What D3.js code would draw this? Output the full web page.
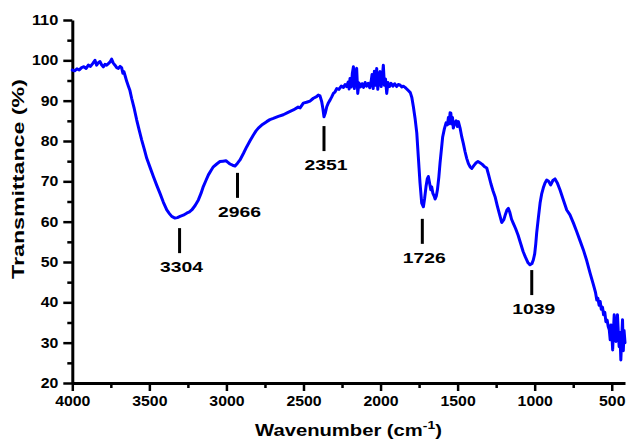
<!DOCTYPE html>
<html><head><meta charset="utf-8">
<script src="https://cdn.jsdelivr.net/npm/d3@7"></script>
<style>
html,body{margin:0;padding:0;background:#fff;}
svg{display:block;font-family:"Liberation Sans",Arial,Helvetica,sans-serif;}
</style></head>
<body>
<svg id="chart" width="629" height="440"></svg>
<script>
// ---- data ----
const wavenumber = [4000,3985,3970,3955,3940,3925,3910,3896,3882,3868,3853,3842,3831,3820,3810,3799,3788,3777,3766,3755,3745,3734,3723,3712,3701,3690,3680,3672,3665,3656,3647,3636,3626,3615,3598,3582,3566,3550,3533,3517,3495,3474,3452,3431,3409,3387,3370,3355,3334,3318,3301,3280,3258,3240,3225,3203,3182,3165,3150,3133,3117,3100,3085,3063,3042,3022,3003,2990,2977,2960,2944,2928,2912,2890,2868,2846,2825,2808,2793,2766,2739,2718,2696,2663,2631,2600,2566,2535,2522,2501,2480,2458,2436,2415,2404,2393,2382,2374,2367,2358,2349,2338,2327,2316,2306,2295,2284,2270,2255,2241,2230,2220,2210,2204,2198,2190,2183,2176,2170,2163,2155,2148,2140,2130,2120,2110,2100,2090,2080,2070,2062,2055,2048,2040,2033,2025,2018,2010,2003,1996,1988,1982,1975,1968,1960,1952,1942,1932,1920,1908,1896,1885,1874,1862,1852,1841,1830,1820,1807,1797,1787,1776,1765,1755,1744,1733,1722,1714,1705,1697,1690,1682,1674,1668,1661,1653,1646,1638,1631,1622,1614,1605,1597,1586,1575,1566,1560,1554,1549,1544,1538,1533,1528,1520,1510,1502,1495,1484,1473,1463,1452,1441,1430,1419,1408,1395,1380,1368,1355,1340,1325,1311,1298,1284,1270,1257,1243,1228,1214,1200,1190,1180,1171,1162,1150,1140,1124,1108,1092,1075,1060,1043,1030,1018,1009,1000,993,987,976,965,955,944,933,922,910,896,882,868,852,836,815,792,771,749,727,706,684,662,641,620,605,597,590,582,575,568,560,553,545,538,530,523,516,510,505,499,494,489,484,479,473,468,463,458,452,447,441,436,430,425,420,414];
const transmittance = [97.6,97.4,97.9,97.6,98.2,98.4,98.0,98.8,98.5,99.2,100.0,98.8,99.4,99.7,98.9,98.4,99.0,98.8,99.2,99.6,100.3,99.3,98.8,98.2,98.0,98.5,98.2,96.8,97.2,96.0,94.8,93.6,92.5,90.6,88.0,85.2,82.7,80.3,78.0,75.7,73.4,71.2,69.0,67.0,64.8,62.9,62.0,61.3,60.9,61.0,61.3,61.6,62.1,62.4,62.9,64.0,65.4,67.0,68.7,70.2,71.6,72.7,73.6,74.3,74.9,75.0,75.1,74.7,74.3,74.0,73.8,74.5,75.3,76.9,78.6,80.1,81.5,82.5,83.2,84.1,84.8,85.3,85.6,86.1,86.5,87.1,87.7,88.4,88.2,89.4,89.6,89.9,90.6,91.0,91.4,91.2,89.8,88.0,86.0,87.0,88.5,89.5,90.2,91.0,91.8,92.2,93.0,92.8,93.6,93.3,94.0,93.5,94.6,92.9,95.5,93.4,96.8,98.4,93.0,97.0,98.0,91.8,94.4,93.4,94.2,93.3,94.5,93.6,94.3,93.2,94.6,96.5,93.0,97.3,93.8,98.0,92.8,96.5,97.2,93.5,96.0,98.8,93.8,95.4,91.8,94.5,93.5,94.3,93.6,94.2,93.5,94.0,93.9,93.4,93.6,93.3,92.9,92.5,92.0,90.8,88.5,85.6,82.0,76.1,69.6,64.6,63.7,65.8,68.7,70.6,71.2,69.6,67.9,68.6,67.1,66.4,65.6,66.4,67.9,71.0,74.6,78.0,81.0,83.0,84.5,84.0,85.8,84.3,87.0,86.9,84.2,85.8,83.2,84.4,85.0,83.6,84.8,83.2,81.0,79.4,77.4,75.7,74.4,73.6,73.2,73.9,74.6,74.9,74.6,74.2,73.6,73.3,71.5,69.4,67.6,66.2,64.0,61.8,59.8,60.5,61.8,62.9,63.3,62.4,60.6,59.7,58.3,56.7,54.7,52.6,51.2,49.8,49.3,49.6,50.5,52.0,54.5,57.2,61.0,64.6,66.8,68.4,69.6,70.3,70.0,69.1,70.2,70.6,69.5,67.9,65.5,62.9,61.7,59.7,57.5,55.3,53.0,50.3,47.3,44.5,42.4,40.6,41.0,39.3,40.2,38.3,38.8,36.9,37.5,35.2,35.6,34.0,33.2,30.7,34.4,32.0,28.2,33.0,36.9,32.5,30.3,33.5,36.9,33.0,29.0,32.5,25.7,30.5,35.7,28.0,33.0,30.0];

const xTicks = [4000,3500,3000,2500,2000,1500,1000,500];
const xMinorTicks = [3750,3250,2750,2250,1750,1250,750];
const yTicks = [20,30,40,50,60,70,80,90,100,110];
const yMinorTicks = [25,35,45,55,65,75,85,95,105];

// annotations: label, wavenumber of marker, marker top / bottom (% T)
const annLabels = ["3304","2966","2351","1726","1039"];
const annWavenumber = [3304,2928,2367,1729,1019];
const annTop = [58.4,72.1,83.7,60.7,48.0];
const annBottom = [52.2,65.9,77.5,54.5,41.8];

const xTitle = "Wavenumber (cm";
const xTitleSup = "-1";
const yTitle = "Transmittance (%)";

// ---- drawing ----
const svg = d3.select("#chart");
const x = d3.scaleLinear().domain([4000,414]).range([72.3,625]);
const y = d3.scaleLinear().domain([20,110]).range([383,20]);

function styleAxis(g){
  g.selectAll("path.domain").attr("stroke","#000").attr("stroke-width",3);
  g.selectAll(".tick line").attr("stroke","#000").attr("stroke-width",2.5);
  g.selectAll(".tick text").attr("fill","#000").attr("font-weight","bold")
   .attr("font-size",14).attr("font-family","'Liberation Sans',Arial,sans-serif")
   .each(function(){ const t=d3.select(this); const n=t.text().length; t.attr("textLength",n*8.8).attr("lengthAdjust","spacingAndGlyphs"); });
}

// minor ticks
svg.append("g").attr("transform","translate(0,383)")
  .call(d3.axisBottom(x).tickValues(xMinorTicks).tickSize(5).tickSizeOuter(0).tickFormat(""))
  .call(g=>{g.select(".domain").remove(); g.selectAll(".tick line").attr("stroke","#000").attr("stroke-width",2.5);});
svg.append("g").attr("transform","translate(72.3,0)")
  .call(d3.axisLeft(y).tickValues(yMinorTicks).tickSize(5).tickSizeOuter(0).tickFormat(""))
  .call(g=>{g.select(".domain").remove(); g.selectAll(".tick line").attr("stroke","#000").attr("stroke-width",2.5);});

// major axes
svg.append("g").attr("transform","translate(0,383)")
  .call(d3.axisBottom(x).tickValues(xTicks).tickSize(8).tickPadding(5).tickSizeOuter(0).tickFormat(d3.format("d")))
  .call(styleAxis);
svg.append("g").attr("transform","translate(72.3,0)")
  .call(d3.axisLeft(y).tickValues(yTicks).tickSize(9).tickPadding(5).tickSizeOuter(0).tickFormat(d3.format("d")))
  .call(styleAxis);

// spectrum
const pts = wavenumber.map((w,i)=>[w,transmittance[i]]);
svg.append("path").datum(pts)
  .attr("fill","none").attr("stroke","#0000ff").attr("stroke-width",3)
  .attr("stroke-linejoin","round").attr("stroke-linecap","round")
  .attr("d", d3.line().x(d=>x(d[0])).y(d=>y(d[1])));

// annotations
const ann = svg.append("g");
annLabels.forEach((lab,i)=>{
  ann.append("line").attr("x1",x(annWavenumber[i])).attr("x2",x(annWavenumber[i]))
    .attr("y1",y(annTop[i])).attr("y2",y(annBottom[i])).attr("stroke","#000").attr("stroke-width",3);
  ann.append("text").attr("x",x(annWavenumber[i])+2).attr("y",y(annBottom[i])+19)
    .attr("text-anchor","middle").attr("font-weight","bold").attr("font-size",15)
    .attr("textLength",43).attr("lengthAdjust","spacingAndGlyphs").text(lab);
});

// titles
function fit(sel, w){ const len = sel.node().getComputedTextLength(); return w/len; }
const xt = svg.append("text").attr("font-weight","bold").attr("font-size",16).attr("text-anchor","middle");
xt.append("tspan").text(xTitle);
xt.append("tspan").attr("font-size",11).attr("dy",-7).text(xTitleSup);
xt.append("tspan").attr("dy",7).text(")");
const sx = fit(xt,187);
xt.attr("transform",`translate(348.5,436) scale(${sx},1)`);

const yt = svg.append("text").attr("font-weight","bold").attr("font-size",16.5).attr("text-anchor","middle").text(yTitle);
const sy = fit(yt,200);
yt.attr("transform",`translate(23.5,179) rotate(-90) scale(${sy},1)`);
</script>
</body></html>
